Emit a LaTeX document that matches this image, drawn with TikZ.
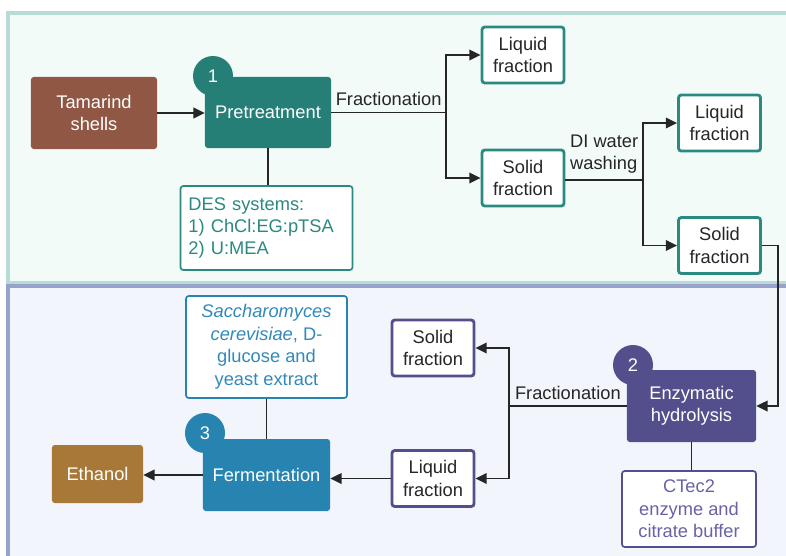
\documentclass[tikz,border=0pt]{standalone}
\usepackage{fontspec}
\setmainfont{Liberation Sans}
\usepackage{xcolor}
\usetikzlibrary{arrows.meta}

\definecolor{tealbox}{HTML}{267F76}
\definecolor{tealline}{HTML}{2A8A80}
\definecolor{brownbox}{HTML}{8F5744}
\definecolor{purplebox}{HTML}{524F8C}
\definecolor{purpletext}{HTML}{6863A6}
\definecolor{bluebox}{HTML}{2783B0}
\definecolor{bluetext}{HTML}{3289BA}
\definecolor{goldbox}{HTML}{A77838}
\definecolor{toppanel}{HTML}{F3FBF9}
\definecolor{topborder}{HTML}{B8DCD5}
\definecolor{botpanel}{HTML}{F2F5FB}
\definecolor{botborder}{HTML}{97A2CC}

\tikzset{
  >={Triangle[length=8pt,width=7.5pt]},
  stage/.style={rounded corners=2pt, text=white, inner sep=0pt, align=center, minimum width=3.15cm, minimum height=1.8cm},
  badge/.style={circle, minimum size=1cm, inner sep=0pt, text=white},
  fracbox/.style={draw, line width=2pt, rounded corners=2pt, fill=white, text=black!85, inner sep=0pt, align=center, minimum width=2.05cm, minimum height=1.4cm},
  notebox/.style={draw, line width=1.2pt, rounded corners=2pt, fill=white, inner sep=0pt, align=center},
  link/.style={line width=1.3pt, draw=black!85},
  tag/.style={above=4pt, inner sep=0pt, text=black!85}
}

\begin{document}
\begin{tikzpicture}[x=0.025cm, y=-0.025cm, font=\fontsize{13}{16}\selectfont]
\useasboundingbox (0,0) rectangle (786,555);
\clip (0,0) rectangle (786,555);
\draw[line width=2.2pt, draw=topborder, fill=toppanel] (8,13) rectangle (830,283);
\draw[line width=2.2pt, draw=botborder, fill=botpanel] (8,286) rectangle (830,600);

\node[stage, fill=brownbox] (tam) at (94,113) {Tamarind\\shells};
\node[stage, fill=tealbox, minimum height=1.775cm] (pre) at (268,112.5) {Pretreatment};
\node[badge, fill=tealbox] (b1) at (213,76) {1};
\node[notebox, draw=tealline, text=tealline, align=left, text width=3.9cm, inner xsep=0.2cm, minimum height=2.1cm] (des) at (266.5,228) {DES systems:\\1) ChCl:EG:pTSA\\2) U:MEA};
\node[fracbox, draw=tealline] (liq1) at (523,55) {Liquid\\fraction};
\node[fracbox, draw=tealline] (sol1) at (523,178) {Solid\\fraction};
\node[fracbox, draw=tealline] (liq2) at (719.5,123) {Liquid\\fraction};
\node[fracbox, draw=tealline] (sol2) at (719.5,245.5) {Solid\\fraction};

\node[stage, fill=purplebox, minimum width=3.225cm] (enz) at (691.5,406) {Enzymatic\\hydrolysis};
\node[badge, fill=purplebox] (b2) at (633,365) {2};
\node[notebox, draw=purplebox, text=purpletext, minimum width=3.35cm, minimum height=1.9cm] (ctec) at (689,509) {CTec2\\enzyme and\\citrate buffer};
\node[fracbox, draw=purplebox] (sol3) at (433,348) {Solid\\fraction};
\node[fracbox, draw=purplebox] (liq3) at (433,478.5) {Liquid\\fraction};
\node[stage, fill=bluebox, minimum width=3.175cm] (ferm) at (266.5,475) {Fermentation};
\node[badge, fill=bluebox] (b3) at (205,433) {3};
\node[notebox, draw=bluebox, text=bluetext, minimum width=4.025cm, minimum height=2.55cm] (sac) at (266.5,347) {{\itshape Saccharomyces}\\{\itshape cerevisiae}, D-\\glucose and\\yeast extract};
\node[stage, fill=goldbox, minimum width=2.275cm, minimum height=1.45cm] (eth) at (97.5,474) {Ethanol};

\coordinate (j1) at (446,112.5);
\coordinate (j2) at (643,180);
\coordinate (j3) at (509,406);
\coordinate (bend) at (778,0);

\draw[link,->] (tam.east) -- (tam.east -| pre.west);
\draw[link] (pre.south) -- (pre.south |- des.north);
\draw[link] (pre.east) -- node[tag] {Fractionation} (j1);
\draw[link,->] (j1) |- (liq1.west);
\draw[link,->] (j1) |- (sol1.west);
\draw[link] (sol1.east |- j2) -- node[tag, align=left] {DI water\\washing} (j2);
\draw[link,->] (j2) |- (liq2.west);
\draw[link,->] (j2) |- (sol2.west);
\draw[link,->] (sol2.east) -| (bend |- enz.east) -- (enz.east);
\draw[link] (enz.south) -- (enz.south |- ctec.north);
\draw[link] (enz.west) -- node[tag] {Fractionation} (j3);
\draw[link,->] (j3) |- (sol3.east);
\draw[link,->] (j3) |- (liq3.east);
\draw[link,->] (liq3.west) -- (liq3.west -| ferm.east);
\draw[link] (sac.south) -- (ferm.north);
\draw[link,->] (ferm.west) -- (ferm.west -| eth.east);
\end{tikzpicture}
\end{document}
